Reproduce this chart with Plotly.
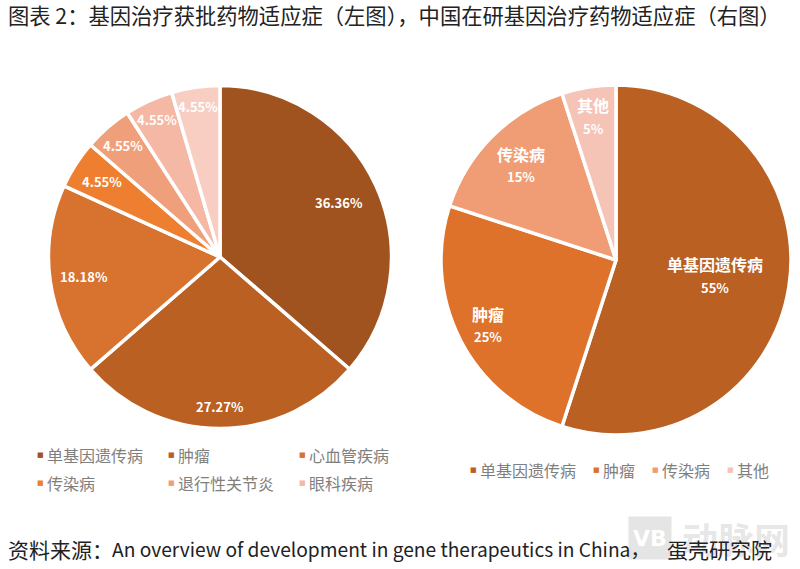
import math
import plotly.graph_objects as go

title = "图表 2：基因治疗获批药物适应症（左图），中国在研基因治疗药物适应症（右图）"
source_parts = ["资料来源：", "An overview of development in gene therapeutics in China，", "蛋壳研究院"]

left_names = ["单基因遗传病", "肿瘤", "心血管疾病", "传染病", "退行性关节炎", "眼科疾病", "其他"]
left_values = [36.36, 27.27, 18.18, 4.55, 4.55, 4.55, 4.55]
left_colors = ["#A0531F", "#B96022", "#D8722F", "#EE7F30", "#EFA07A", "#F4B8A4", "#F8CEC3"]
left_label_r = [131, 150, 137, 140, 148, 151, 152]

right_names = ["单基因遗传病", "肿瘤", "传染病", "其他"]
right_values = [55, 25, 15, 5]
right_colors = ["#B96022", "#DE722B", "#F09C74", "#F6C4B6"]
right_label_r = [100, 144, 134, 145]

W, H = 800, 569
FONT = "Noto Sans CJK SC"
fig = go.Figure()
ann = []

def px(x, y):
    return dict(x=x / W, y=1 - y / H, xref="paper", yref="paper", showarrow=False)

def pie(names, values, colors, cx, cy, r):
    fig.add_trace(go.Pie(
        labels=names, values=values, sort=False, direction="clockwise", rotation=0,
        textinfo="none", hoverinfo="label+percent", showlegend=False,
        marker=dict(colors=colors, line=dict(color="white", width=3.5)),
        domain=dict(x=[(cx - r) / W, (cx + r) / W], y=[1 - (cy + r) / H, 1 - (cy - r) / H]),
    ))

def labels(values, texts, radii, cx, cy, dy=0, size=13):
    total = sum(values)
    acc = 0
    for v, t, rr in zip(values, texts, radii):
        a = 2 * math.pi * (acc + v / 2) / total
        acc += v
        ann.append(dict(**px(cx + rr * math.sin(a), cy - rr * math.cos(a) + dy), text=t,
                        font=dict(family=FONT, size=size, color="white"),
                        xanchor="center", yanchor="middle"))

pie(left_names, left_values, left_colors, 220, 257, 171.5)
pie(right_names, right_values, right_colors, 616, 260, 175)
labels(left_values, [f"<b>{v:.2f}%</b>" for v in left_values], left_label_r, 220, 257)
labels(right_values, [f"<b>{n}</b>" for n in right_names], right_label_r, 616, 260, dy=-11.5, size=16)
labels(right_values, [f"<b>{v}%</b>" for v in right_values], right_label_r, 616, 260, dy=11.5)

def legend_item(x, y, name, color):
    ann.append(dict(**px(x, y), text="■", font=dict(family="DejaVu Sans", size=7, color=color),
                    xanchor="center", yanchor="middle"))
    ann.append(dict(**px(x + 5, y), text=name, font=dict(family=FONT, size=16, color="#7F7F7F"),
                    xanchor="left", yanchor="middle"))

left_legend_pos = [(40, 455), (171, 455), (302, 455), (40, 483), (171, 483), (302, 483)]
for (x, y), n, c in zip(left_legend_pos, left_names, left_colors):
    legend_item(x, y, n, c)
right_legend_pos = [(473, 470), (596, 470), (655, 470), (730, 470)]
for (x, y), n, c in zip(right_legend_pos, right_names, right_colors):
    legend_item(x, y, n, c)

# watermark sits under the source line
ann.append(dict(**px(650, 538), text="<b>VB</b>", font=dict(family="DejaVu Sans", size=22, color="white"),
                xanchor="center", yanchor="middle", bgcolor="rgba(170,170,170,0.3)", width=40, height=40))
ann.append(dict(**px(680, 538), text="<b>动脉网</b>", font=dict(family=FONT, size=36, color="rgba(170,170,170,0.3)"),
                xanchor="left", yanchor="middle"))

ann.append(dict(**px(6, 14), text=title, font=dict(family=FONT, size=21.3, color="#222222"),
                xanchor="left", yanchor="middle"))
for x, t, s in zip([6, 110, 665], source_parts, [21, 19.2, 21]):
    ann.append(dict(**px(x, 549), text=t, font=dict(family=FONT, size=s, color="#222222"),
                    xanchor="left", yanchor="middle"))

fig.update_layout(width=W, height=H, margin=dict(l=0, r=0, t=0, b=0), paper_bgcolor="white",
                  annotations=ann, font=dict(family=FONT))
fig.write_html("out.html", post_script="document.body.style.margin='0';", config=dict(displayModeBar=False))
